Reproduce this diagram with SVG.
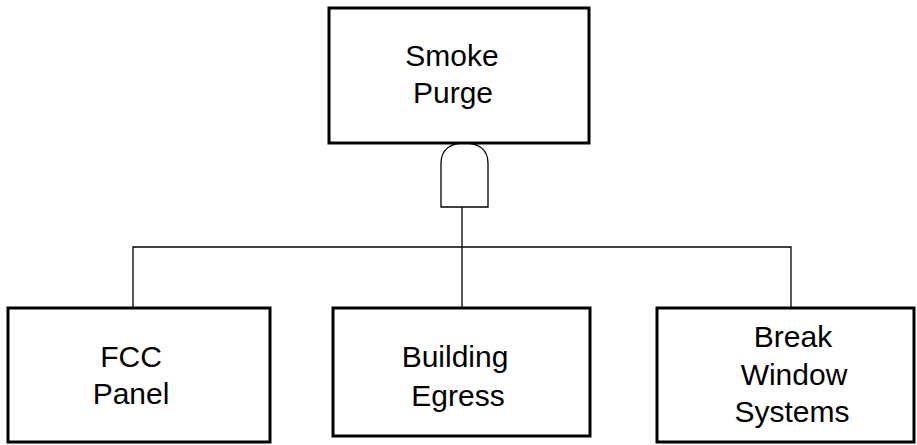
<svg xmlns="http://www.w3.org/2000/svg" width="917" height="445" viewBox="0 0 917 445">
<style>
.box{fill:#fff;stroke:#000;stroke-width:3}
.ln{fill:none;stroke:#000;stroke-width:1.3}
.t{font-family:"Liberation Sans",Arial,sans-serif;font-size:30px;fill:#000;text-anchor:middle}
</style>
<rect width="917" height="445" fill="#fff"/>
<g id="connectors">
<path class="ln" d="M441,207 V163 C441,150 450,143 464.5,143 C479,143 488,150 488,163 V207 Z"/>
<line class="ln" x1="462" y1="207" x2="462" y2="307"/>
<polyline class="ln" points="133,307 133,247 791,247 791,307"/>
</g>
<g id="smoke-purge">
<rect class="box" x="329" y="8" width="260" height="135"/>
<text class="t" x="452" y="66">Smoke</text>
<text class="t" x="453" y="103">Purge</text>
</g>
<g id="fcc-panel">
<rect class="box" x="8" y="308" width="262" height="134"/>
<text class="t" x="131" y="367">FCC</text>
<text class="t" x="131" y="404">Panel</text>
</g>
<g id="building-egress">
<rect class="box" x="333" y="308" width="257" height="128"/>
<text class="t" x="455" y="367">Building</text>
<text class="t" x="458" y="406">Egress</text>
</g>
<g id="break-window-systems">
<rect class="box" x="657" y="308" width="257" height="134"/>
<text class="t" x="793" y="347">Break</text>
<text class="t" x="794" y="385">Window</text>
<text class="t" x="792" y="422">Systems</text>
</g>
</svg>
